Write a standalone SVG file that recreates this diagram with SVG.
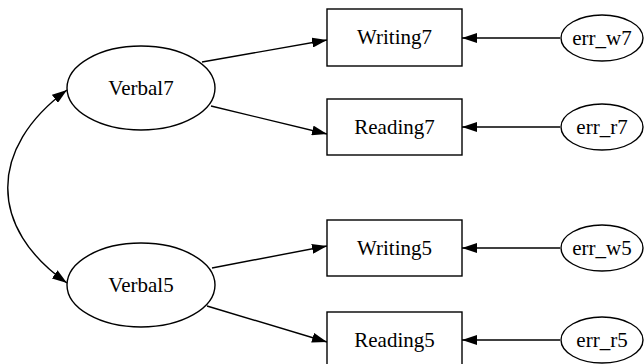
<svg xmlns="http://www.w3.org/2000/svg" width="644" height="364" viewBox="0 0 644 364">
<style>
.n{fill:#fff;stroke:#000;stroke-width:1.4}
.e{fill:none;stroke:#000;stroke-width:1.4}
text{font-family:"Liberation Serif","DejaVu Serif",serif;font-size:21px;fill:#000;text-anchor:middle}
</style>
<defs>
<marker id="a" viewBox="0 0 15 10" refX="15" refY="5" markerWidth="15" markerHeight="10" markerUnits="userSpaceOnUse" orient="auto-start-reverse">
<path d="M0,0 L15,5 L0,10 z" fill="#000"/>
</marker>
</defs>
<g id="connectors">
<path class="e" d="M202,62 L327,40" marker-end="url(#a)"/>
<path class="e" d="M211,106 L327,134" marker-end="url(#a)"/>
<path class="e" d="M212,268 L327,246" marker-end="url(#a)"/>
<path class="e" d="M207,306 L327,342" marker-end="url(#a)"/>
<path class="e" d="M560,38 L462,38" marker-end="url(#a)"/>
<path class="e" d="M560,127 L462,127" marker-end="url(#a)"/>
<path class="e" d="M560,248 L462,248" marker-end="url(#a)"/>
<path class="e" d="M560,340 L462,340" marker-end="url(#a)"/>
<path class="e" d="M67,90 C-12,148 -12,228 67,283" marker-start="url(#a)" marker-end="url(#a)"/>
</g>
<g id="Verbal7"><ellipse class="n" cx="141" cy="88" rx="74" ry="42"/><text x="141" y="95">Verbal7</text></g>
<g id="Verbal5"><ellipse class="n" cx="141" cy="285" rx="74" ry="42"/><text x="141" y="292">Verbal5</text></g>
<g id="Writing7"><rect class="n" x="327" y="9" width="135" height="57"/><text x="394.5" y="44">Writing7</text></g>
<g id="Reading7"><rect class="n" x="327" y="99" width="135" height="56"/><text x="394.5" y="134">Reading7</text></g>
<g id="Writing5"><rect class="n" x="327" y="220" width="135" height="56"/><text x="394.5" y="255">Writing5</text></g>
<g id="Reading5"><rect class="n" x="327" y="312" width="135" height="57"/><text x="394.5" y="347">Reading5</text></g>
<g id="err_w7"><ellipse class="n" cx="602" cy="38" rx="41" ry="23"/><text x="602" y="45">err_w7</text></g>
<g id="err_r7"><ellipse class="n" cx="602" cy="127" rx="41" ry="23"/><text x="602" y="134">err_r7</text></g>
<g id="err_w5"><ellipse class="n" cx="602" cy="248" rx="41" ry="23"/><text x="602" y="255">err_w5</text></g>
<g id="err_r5"><ellipse class="n" cx="602" cy="340" rx="41" ry="23"/><text x="602" y="347">err_r5</text></g>
</svg>
